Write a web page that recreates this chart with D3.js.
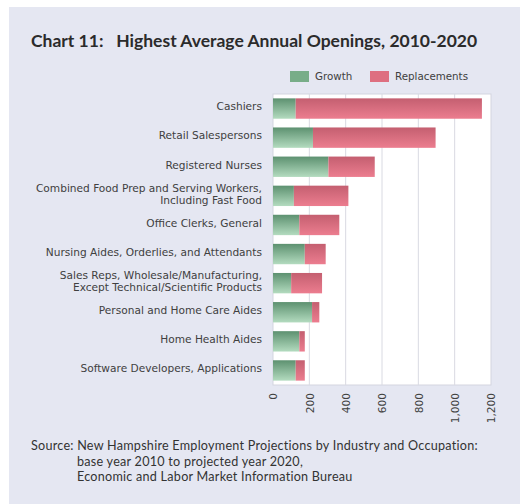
<!DOCTYPE html>
<html>
<head>
<meta charset="utf-8">
<script src="https://cdn.jsdelivr.net/npm/d3@7"></script>
<style>
  html, body { margin: 0; padding: 0; background: #ffffff; }
  svg { display: block; }
</style>
</head>
<body>
<svg id="chart" width="520" height="504"></svg>
<script>
// Occupations, top to bottom; "\n" splits a label onto two lines
const occupations = [
  "Cashiers",
  "Retail Salespersons",
  "Registered Nurses",
  "Combined Food Prep and Serving Workers,\nIncluding Fast Food",
  "Office Clerks, General",
  "Nursing Aides, Orderlies, and Attendants",
  "Sales Reps, Wholesale/Manufacturing,\nExcept Technical/Scientific Products",
  "Personal and Home Care Aides",
  "Home Health Aides",
  "Software Developers, Applications"
];
// Average annual openings due to growth and to replacement needs
const growth       = [125, 220, 305, 115, 145, 175, 100, 215, 145, 125];
const replacements = [1025, 675, 255, 300, 220, 115, 170, 40, 30, 50];
const seriesNames  = ["Growth", "Replacements"];
const xTicks       = [0, 200, 400, 600, 800, 1000, 1200];
const sourceLines  = [
  "Source: New Hampshire Employment Projections by Industry and Occupation:",
  "base year 2010 to projected year 2020,",
  "Economic and Labor Market Information Bureau"
];

const svg = d3.select("#chart");

// Gradients for the bar fills
const defs = svg.append("defs");
const gradients = [
  { id: "gGrowth", top: "#5d9170", bottom: "#b3dbbf" },
  { id: "gRepl",   top: "#c45f70", bottom: "#ec7d8f" }
];
gradients.forEach(g => {
  const lg = defs.append("linearGradient").attr("id", g.id)
    .attr("x1", 0).attr("y1", 0).attr("x2", 0).attr("y2", 1);
  lg.append("stop").attr("offset", "0%").attr("stop-color", g.top);
  lg.append("stop").attr("offset", "100%").attr("stop-color", g.bottom);
});
const fills = ["url(#gGrowth)", "url(#gRepl)"];
const legendFills = ["#78ad88", "#de6f80"];

// Panel background
svg.append("rect").attr("x", 9).attr("y", 7).attr("width", 511).attr("height", 497)
  .attr("fill", "#e5e7f2");

// Title
svg.append("text").attr("x", 31).attr("y", 47)
  .attr("font-family", "Lato, 'Open Sans', sans-serif")
  .attr("font-weight", "bold").attr("font-size", 17.5).attr("fill", "#2b2b2b")
  .attr("xml:space", "preserve")
  .text("Chart 11:   Highest Average Annual Openings, 2010-2020");

// Plot area
const plot = { left: 273, right: 491, top: 94, bottom: 385 };
const x = d3.scaleLinear().domain([0, 1200]).range([plot.left, plot.right]);
const y = d3.scaleBand().domain(occupations).range([plot.top, plot.bottom])
  .paddingInner(0.3).paddingOuter(0.15);

svg.append("rect")
  .attr("x", plot.left).attr("y", plot.top)
  .attr("width", plot.right - plot.left).attr("height", plot.bottom - plot.top)
  .attr("fill", "#ffffff").attr("stroke", "#d4d5df").attr("stroke-width", 1);

// Vertical gridlines
svg.append("g").selectAll("line").data(xTicks.slice(1, -1)).join("line")
  .attr("x1", d => x(d)).attr("x2", d => x(d))
  .attr("y1", plot.top).attr("y2", plot.bottom)
  .attr("stroke", "#d9dae2").attr("stroke-width", 1);

// Stacked bars
const rows = occupations.map((o, i) => ({ occ: o, vals: [growth[i], replacements[i]] }));
const stack = d3.stack().keys([0, 1]).value((d, k) => d.vals[k]);
const layers = stack(rows);

svg.append("g").selectAll("g").data(layers).join("g")
  .attr("fill", (d, i) => fills[i])
  .selectAll("rect").data(d => d).join("rect")
  .attr("x", d => x(d[0]))
  .attr("y", d => y(d.data.occ))
  .attr("width", d => x(d[1]) - x(d[0]))
  .attr("height", y.bandwidth());

// Category labels
const labelG = svg.append("g")
  .attr("font-family", "'DejaVu Sans', Verdana, sans-serif")
  .attr("font-size", 10.6).attr("fill", "#404040").attr("text-anchor", "end");
occupations.forEach(o => {
  const lines = o.split("\n");
  const cy = y(o) + y.bandwidth() / 2 - 2;
  const t = labelG.append("text").attr("x", 262);
  lines.forEach((ln, j) => {
    t.append("tspan").attr("x", 262)
      .attr("y", cy + 3.8 + (j - (lines.length - 1) / 2) * 12)
      .text(ln);
  });
});

// X axis tick labels (rotated)
const xAxis = d3.axisBottom(x).tickValues(xTicks)
  .tickFormat(d3.format(",")).tickSize(0).tickPadding(0);
const axisG = svg.append("g").attr("transform", `translate(0,${plot.bottom})`).call(xAxis);
axisG.select(".domain").remove();
axisG.selectAll("text")
  .attr("font-family", "'DejaVu Sans', Verdana, sans-serif")
  .attr("font-size", 10.6).attr("fill", "#404040")
  .attr("text-anchor", "end")
  .attr("dy", "0.35em")
  .attr("transform", "translate(0,8) rotate(-90)")
  .attr("x", 0).attr("y", 0);

// Legend
const legend = svg.append("g")
  .attr("font-family", "'DejaVu Sans', Verdana, sans-serif")
  .attr("font-size", 10.3).attr("fill", "#404040");
const legendX = [290, 370];
seriesNames.forEach((s, i) => {
  legend.append("rect").attr("x", legendX[i]).attr("y", 71)
    .attr("width", 19).attr("height", 11).attr("fill", legendFills[i]);
  legend.append("text").attr("x", legendX[i] + 25).attr("y", 80).text(s);
});

// Source note
const src = svg.append("g")
  .attr("font-family", "Lato, 'Open Sans', sans-serif")
  .attr("font-size", 12.6).attr("letter-spacing", 0.25).attr("fill", "#333333");
sourceLines.forEach((ln, i) => {
  src.append("text").attr("x", i === 0 ? 31 : 77).attr("y", 450 + i * 15.5).text(ln);
});
</script>
</body>
</html>
